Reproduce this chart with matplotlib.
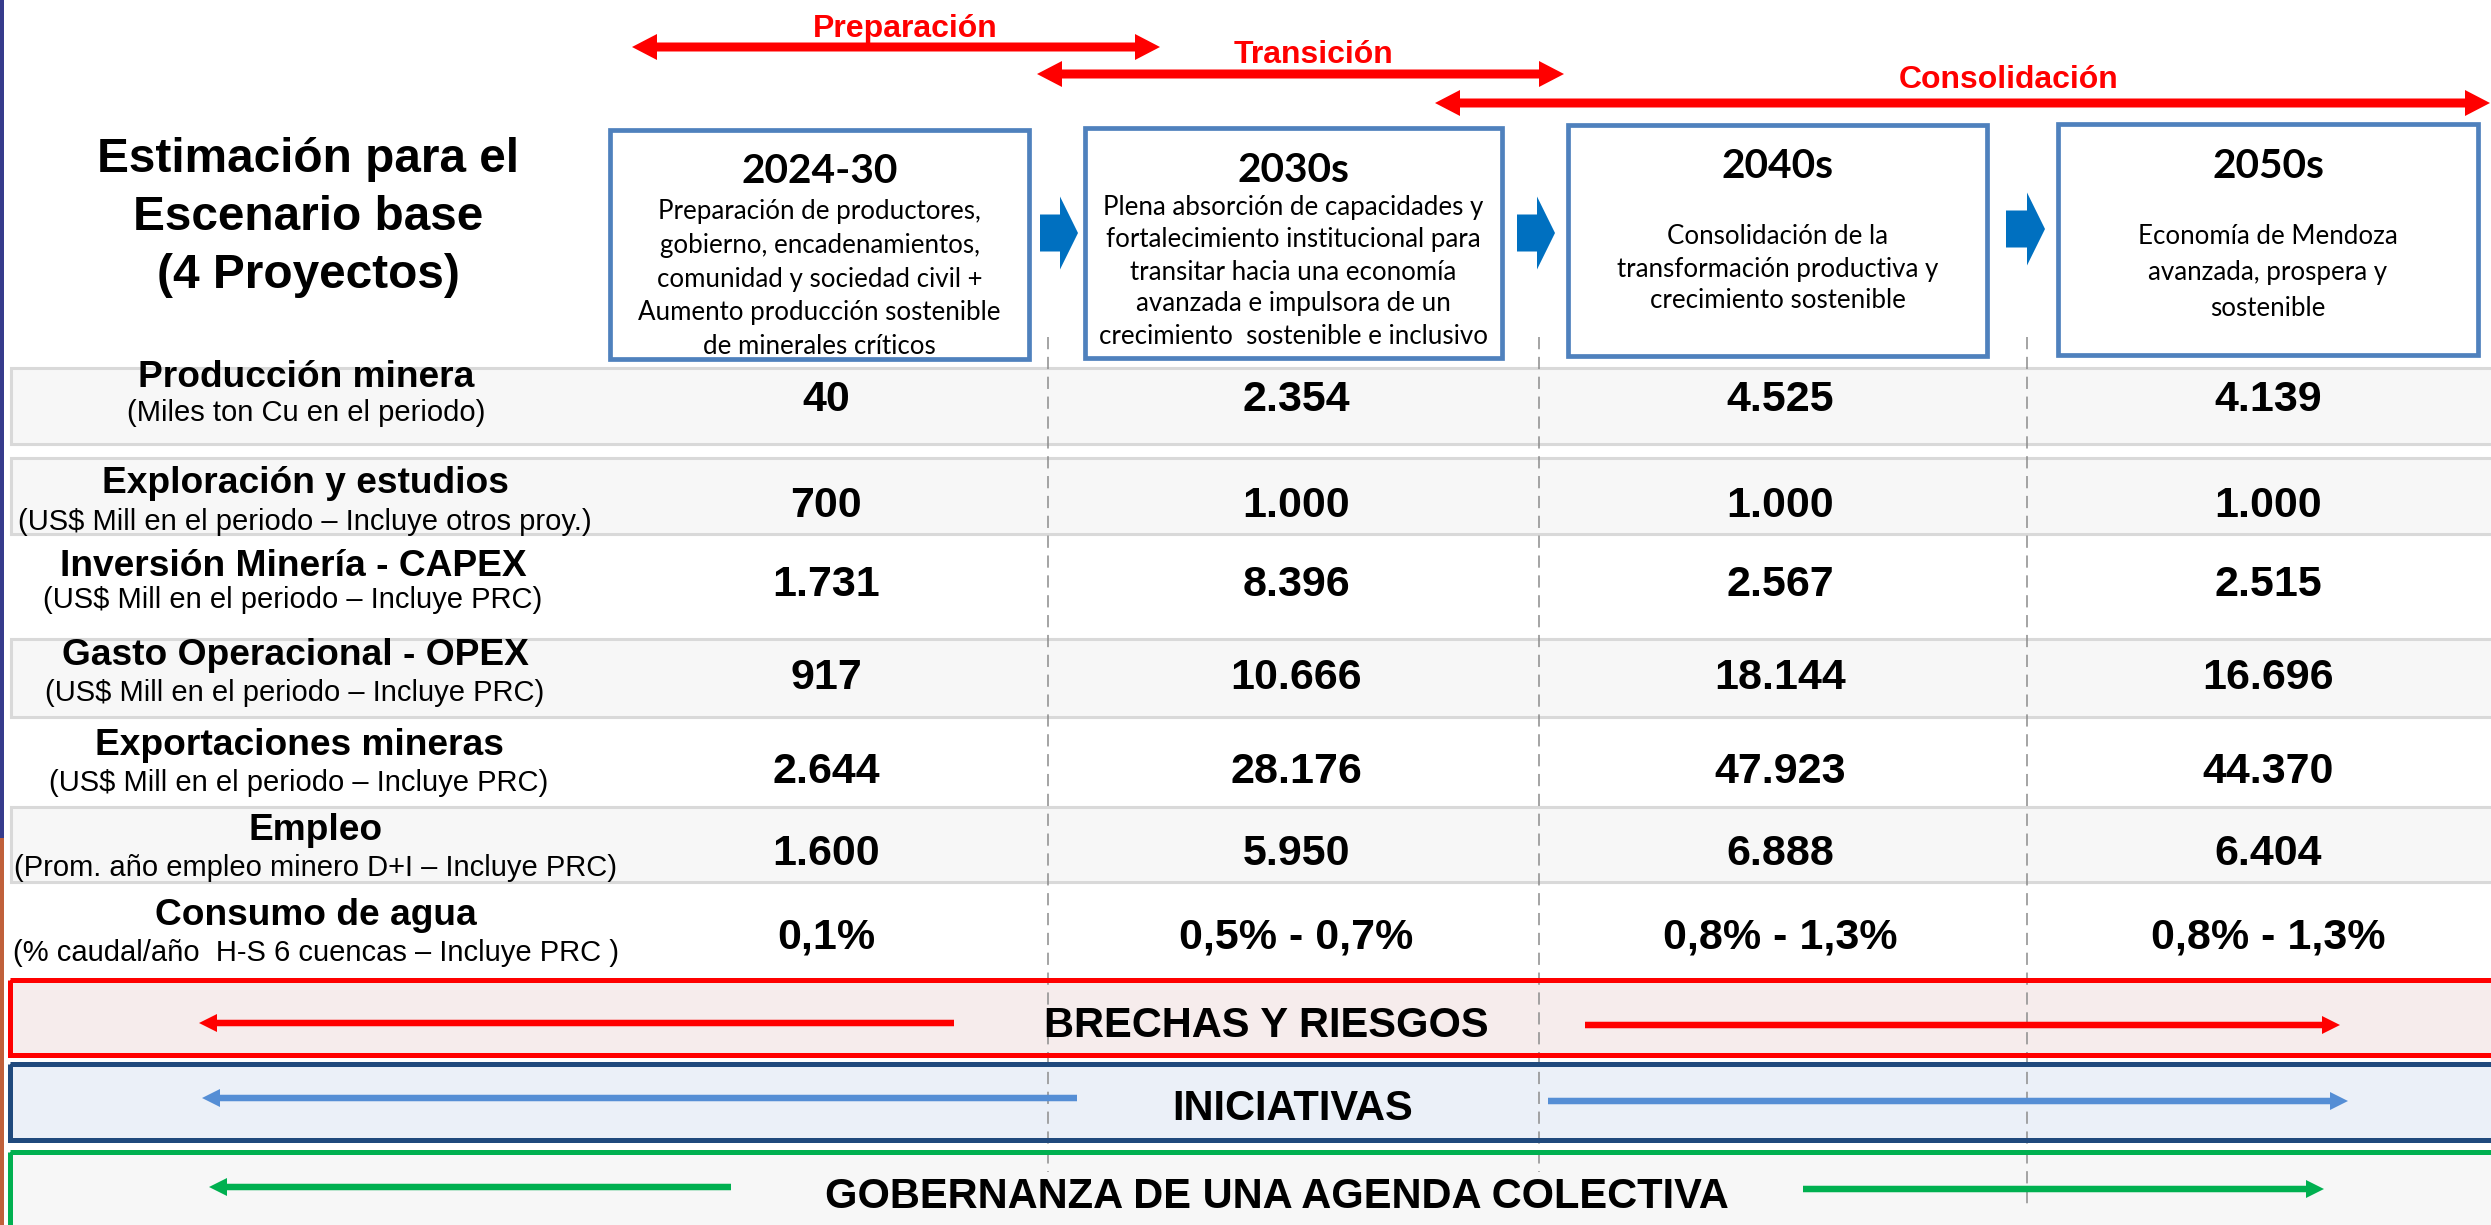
import matplotlib
matplotlib.use("Agg")
import matplotlib.pyplot as plt
from matplotlib.patches import Rectangle, Polygon

# ---------------- data ----------------
phases = ["Preparación", "Transición", "Consolidación"]
periods = ["2024-30", "2030s", "2040s", "2050s"]
period_desc = [
    ["Preparación de productores,", "gobierno, encadenamientos,",
     "comunidad y sociedad civil +", "Aumento producción sostenible",
     "de minerales críticos"],
    ["Plena absorción de capacidades y", "fortalecimiento institucional para",
     "transitar hacia una economía", "avanzada e impulsora de un",
     "crecimiento  sostenible e inclusivo"],
    ["Consolidación de la", "transformación productiva y", "crecimiento sostenible"],
    ["Economía de Mendoza", "avanzada, prospera y", "sostenible"],
]
title_lines = ["Estimación para el", "Escenario base", "(4 Proyectos)"]
indicators = ["Producción minera", "Exploración y estudios",
              "Inversión Minería - CAPEX", "Gasto Operacional - OPEX",
              "Exportaciones mineras", "Empleo", "Consumo de agua"]
units = ["(Miles ton Cu en el periodo)",
         "(US$ Mill en el periodo – Incluye otros proy.)",
         "(US$ Mill en el periodo – Incluye PRC)",
         "(US$ Mill en el periodo – Incluye PRC)",
         "(US$ Mill en el periodo – Incluye PRC)",
         "(Prom. año empleo minero D+I – Incluye PRC)",
         "(% caudal/año  H-S 6 cuencas – Incluye PRC )"]
produccion = ["40", "2.354", "4.525", "4.139"]
exploracion = ["700", "1.000", "1.000", "1.000"]
capex = ["1.731", "8.396", "2.567", "2.515"]
opex = ["917", "10.666", "18.144", "16.696"]
exportaciones = ["2.644", "28.176", "47.923", "44.370"]
empleo = ["1.600", "5.950", "6.888", "6.404"]
agua = ["0,1%", "0,5% - 0,7%", "0,8% - 1,3%", "0,8% - 1,3%"]
bands = ["BRECHAS Y RIESGOS", "INICIATIVAS", "GOBERNANZA DE UNA AGENDA COLECTIVA"]

table_values = [produccion, exploracion, capex, opex, exportaciones, empleo, agua]

# ---------------- layout ----------------
W, H = 2491, 1225
PX = 100 / 72.0
ARIAL = ["Liberation Sans", "DejaVu Sans"]
BOXF = ["Lato", "DejaVu Sans"]
plt.rcParams["font.family"] = ARIAL

fig = plt.figure(figsize=(W / 100, H / 100), dpi=100)
ax = fig.add_axes([0, 0, 1, 1])
ax.set_xlim(0, W)
ax.set_ylim(H, 0)
ax.axis("off")
renderer = fig.canvas.get_renderer()


def label(x, yc, s, size, bold=True, color="black", family=ARIAL, z=6):
    ax.text(x, yc + 0.358 * size * PX, s, fontsize=size,
            fontweight="bold" if bold else "normal", color=color,
            ha="center", va="baseline", family=family, zorder=z)


def fit_size(s, width_px, weight, family):
    t = ax.text(0, 0, s, fontsize=20, fontweight=weight, family=family)
    bb = t.get_window_extent(renderer=renderer)
    t.remove()
    return 20 * width_px / bb.width


def harrow(x0, x1, y, shaft, head_w, head_l, color, left=False, right=True, z=4):
    hs, hw = shaft / 2, head_w / 2
    xs = x0 + (head_l if left else 0)
    xe = x1 - (head_l if right else 0)
    pts = []
    if left:
        pts += [(x0, y), (xs, y - hw), (xs, y - hs)]
    else:
        pts += [(x0, y - hs)]
    if right:
        pts += [(xe, y - hs), (xe, y - hw), (x1, y), (xe, y + hw), (xe, y + hs)]
    else:
        pts += [(x1, y - hs), (x1, y + hs)]
    if left:
        pts += [(xs, y + hs), (xs, y + hw)]
    else:
        pts += [(x0, y + hs)]
    ax.add_patch(Polygon(pts, closed=True, fc=color, ec="none", zorder=z))


# left strip
ax.add_patch(Rectangle((0, 0), 4, 838, fc="#363B8C", ec="none", zorder=10))
ax.add_patch(Rectangle((0, 838), 4, H - 838, fc="#C0603A", ec="none", zorder=10))

# phase arrows
phase_arrows = [(632, 1160, 47, 905, 26), (1037, 1564, 74, 1313, 52), (1435, 2490, 103, 2009, 77)]
for name, (x0, x1, y, tx, ty) in zip(phases, phase_arrows):
    harrow(x0, x1, y, 9, 26, 25, "#FF0000", left=True, right=True)
    label(tx, ty, name, 23, color="#FF0000")

# main title
for s, yc in zip(title_lines, [155, 213, 271]):
    label(308, yc, s, 34.4)

# period boxes
boxes = [(610, 1029, 130, 359), (1085, 1502, 128, 358),
         (1568, 1987, 125, 356), (2058, 2478, 124, 355)]
box_text = [(168, 212, 33.5), (167, 208, 32), (163, 237, 32), (163, 237, 35.5)]
body_size = fit_size("Aumento producción sostenible", 362, "normal", BOXF)
title_size = fit_size("2024-30", 140, "bold", BOXF) * 1.12
for per, desc, (x0, x1, y0, y1), (ty, by0, bdy) in zip(periods, period_desc, boxes, box_text):
    ax.add_patch(Rectangle((x0, y0), x1 - x0, y1 - y0, fc="white", ec="#4F81BD",
                           lw=3.4, zorder=3))
    cx = (x0 + x1) / 2
    ax.text(cx, ty + 0.36 * title_size * PX, per, fontsize=title_size, fontweight="bold",
            family=BOXF, ha="center", va="baseline", zorder=6)
    for i, line in enumerate(desc):
        ax.text(cx, by0 + i * bdy, line, fontsize=body_size, family=BOXF,
                ha="center", va="center", zorder=6)

# blue connector arrows
for x0, x1, yc in [(1040, 1078, 233), (1517, 1555, 233), (2006, 2045, 229)]:
    harrow(x0, x1, yc, 37, 73, 18, "#0070C0")

# table rows
row_spans = [(368, 444), (458, 534), (534, 639), (639, 717), (717, 807), (807, 882), (882, 978)]
row_gray = [True, True, False, True, False, True, False]
for (t, b), g in zip(row_spans, row_gray):
    if g:
        ax.add_patch(Rectangle((11, t), W + 20, b - t, fc="#F7F7F7", ec="#D9D9D9",
                               lw=2.2, zorder=1))

label_x = [306, 305, 293, 295, 299, 316, 316]
title_y = [374, 480, 563, 652, 742, 827, 912]
unit_y = [413, 522, 600, 693, 783, 868, 953]
value_y = [396, 502, 581, 674, 768, 850, 933]
col_x = [826, 1296, 1780, 2268]
for name, unit, vals, lx, ty, uy, vy in zip(indicators, units, table_values,
                                             label_x, title_y, unit_y, value_y):
    label(lx, ty, name, 26.7)
    ax.text(lx, uy, unit, fontsize=21, ha="center", va="center", zorder=6)
    for v, cx in zip(vals, col_x):
        label(cx, vy, v, 31)

# dashed separators
for x, yend in zip([1048, 1539, 2027], [1172, 1172, 1205]):
    ax.plot([x, x], [337, yend], color="#8C8C8C", lw=1.1, ls=(0, (8, 5)), zorder=2.5)

# bottom bands
band_specs = [
    (980, 1055, "#FF0000", "#F6ECEC", "#FF0000", 1266, 1022, (199, 954, 1023), (1585, 2340, 1025)),
    (1064, 1140, "#1F497D", "#EBF0F8", "#558ED5", 1293, 1105, (202, 1077, 1098), (1548, 2348, 1101)),
    (1152, 1240, "#00B050", "#F7F7F7", "#00B050", 1277, 1193, (209, 731, 1187), (1803, 2324, 1189)),
]
for name, (t, b, ec, fc, ac, tx, ty, la, ra) in zip(bands, band_specs):
    ax.add_patch(Rectangle((10, t), W + 30, b - t, fc=fc, ec="none", zorder=1))
    ax.add_patch(Rectangle((10, t), W + 30, b - t, fc="none", ec=ec, lw=3.6, zorder=3))
    harrow(la[0], la[1], la[2], 6.5, 18, 18, ac, left=True, right=False)
    harrow(ra[0], ra[1], ra[2], 6.5, 18, 18, ac)
    label(tx, ty, name, 30)

fig.savefig("out.png", dpi=100)
